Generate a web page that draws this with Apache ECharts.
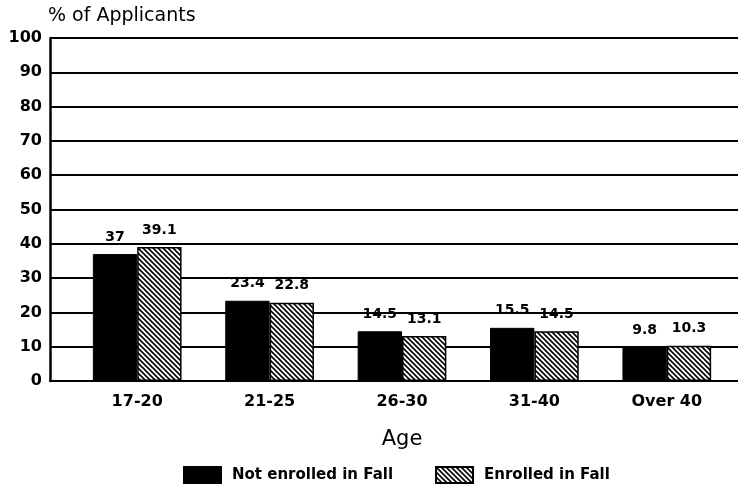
<!DOCTYPE html>
<html>
<head>
<meta charset="utf-8">
<script src="https://cdn.jsdelivr.net/npm/echarts@6/dist/echarts.min.js"></script>
<style>
  html, body { margin: 0; padding: 0; background: #fff; }
  #chart { width: 738px; height: 491px; }
</style>
</head>
<body>
<div id="chart"></div>
<script>
  // 数据
  var categories = ['17-20', '21-25', '26-30', '31-40', 'Over 40'];
  var notEnrolled = [37, 23.4, 14.5, 15.5, 9.8];
  var enrolled = [39.1, 22.8, 13.1, 14.5, 10.3];
  var seriesNames = ['Not enrolled in Fall', 'Enrolled in Fall'];

  // 斜线填充 (\\\)
  function hatch() {
    var s = 5;
    var c = document.createElement('canvas');
    c.width = s; c.height = s;
    var ctx = c.getContext('2d');
    ctx.fillStyle = '#fff';
    ctx.fillRect(0, 0, s, s);
    ctx.strokeStyle = '#000';
    ctx.lineWidth = 1.6;
    ctx.beginPath();
    ctx.moveTo(-1, -1); ctx.lineTo(s + 1, s + 1);
    ctx.moveTo(-s - 1, -1); ctx.lineTo(1, s + 1);
    ctx.moveTo(s - 1, -1); ctx.lineTo(2 * s + 1, s + 1);
    ctx.stroke();
    return c;
  }
  var hatchFill = { image: hatch(), repeat: 'repeat' };

  var chart = echarts.init(document.getElementById('chart'));
  var font = 'DejaVu Sans';
  chart.setOption({
    animation: false,
    title: {
      text: '% of Applicants',
      left: 43, top: 2,
      textStyle: { fontFamily: font, fontSize: 19, fontWeight: 'normal', color: '#000' }
    },
    legend: {
      top: 461,
      left: 178,
      itemWidth: 37,
      itemHeight: 16,
      itemGap: 42,
      icon: 'rect',
      textStyle: { fontFamily: font, fontSize: 15, fontWeight: 'bold', color: '#000', padding: [0, 0, 0, 6] },
      data: seriesNames
    },
    grid: [
      { left: 50, right: 0, top: 38, bottom: 110 },
      { left: 71, right: 5, top: 38, bottom: 110 }
    ],
    xAxis: [
      {
        gridIndex: 0, type: 'category', data: categories,
        axisLine: { lineStyle: { color: '#000', width: 2 } },
        axisTick: { show: false }, axisLabel: { show: false }
      },
      {
        gridIndex: 1, type: 'category', data: categories,
        axisLine: { show: false }, axisTick: { show: false },
        axisLabel: { fontFamily: font, fontSize: 16, fontWeight: 'bold', color: '#000', margin: 13 },
        name: 'Age', nameLocation: 'middle', nameGap: 48,
        nameTextStyle: { fontFamily: font, fontSize: 21, color: '#000' }
      }
    ],
    yAxis: [
      {
        gridIndex: 0, type: 'value', min: 0, max: 100, interval: 10,
        axisLine: { show: true, lineStyle: { color: '#000', width: 2.5 } },
        axisTick: { show: false },
        splitLine: { lineStyle: { color: '#000', width: 2 } },
        axisLabel: { fontFamily: font, fontSize: 16, fontWeight: 'bold', color: '#000', margin: 8 }
      },
      {
        gridIndex: 1, type: 'value', min: 0, max: 100, interval: 10,
        show: false, splitLine: { show: false }
      }
    ],
    series: [
      {
        name: seriesNames[0], type: 'bar', xAxisIndex: 1, yAxisIndex: 1,
        data: notEnrolled, barGap: 0, barCategoryGap: '33%',
        itemStyle: { color: '#000', borderColor: '#000', borderWidth: 1 },
        label: { show: true, position: 'top', distance: 10, fontFamily: font, fontSize: 14, fontWeight: 'bold', color: '#000' }
      },
      {
        name: seriesNames[1], type: 'bar', xAxisIndex: 1, yAxisIndex: 1,
        data: enrolled, barGap: 0, barCategoryGap: '33%',
        itemStyle: { color: hatchFill, borderColor: '#000', borderWidth: 1.5 },
        label: { show: true, position: 'top', distance: 10, fontFamily: font, fontSize: 14, fontWeight: 'bold', color: '#000' }
      }
    ]
  });
</script>
</body>
</html>
